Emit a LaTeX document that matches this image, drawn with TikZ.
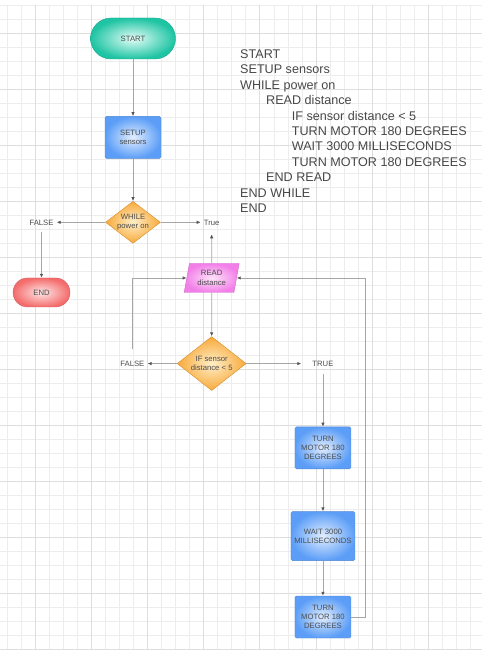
\documentclass[tikz,border=0pt]{standalone}
\usepackage{fontspec}
\setmainfont{Liberation Sans}
\usetikzlibrary{arrows.meta, positioning, shapes.geometric}

\definecolor{txtgray}{HTML}{4D4D4D}
\definecolor{linegray}{HTML}{A6A6A6}
\definecolor{tipgray}{HTML}{555555}
\definecolor{tealout}{HTML}{1EC4A3}
\definecolor{tealin}{HTML}{E4FDF7}
\definecolor{blueout}{HTML}{5C9EF7}
\definecolor{bluein}{HTML}{E2EEFF}
\definecolor{orangeout}{HTML}{F8A93A}
\definecolor{orangein}{HTML}{FFEFC8}
\definecolor{redout}{HTML}{F46C6C}
\definecolor{redin}{HTML}{FFE6E6}
\definecolor{pinkout}{HTML}{F27EE8}
\definecolor{pinkin}{HTML}{FFE4FA}

\begin{document}
\begin{tikzpicture}[x=1pt, y=-1pt, node distance=40pt, >={Latex[length=4pt,width=3.5pt,color=tipgray]},
    font=\fontsize{7.7}{9.3}\selectfont, text=txtgray]
  \tikzstyle{termnode}=[draw=tealout!85!black, line width=0.4pt, rounded corners=20.5pt, minimum width=85pt, minimum height=41pt, inner color=tealin, outer color=tealout]
  \tikzstyle{endnode}=[draw=redout!85!black, line width=0.4pt, rounded corners=14.5pt, minimum width=57pt, minimum height=29pt, inner color=redin, outer color=redout]
  \tikzstyle{procnode}=[draw=blueout!85!black, line width=0.4pt, rounded corners=1.5pt, align=center, minimum width=56pt, minimum height=42pt, inner color=bluein, outer color=blueout]
  \tikzstyle{decnode}=[diamond, draw=orangeout!85!black, line width=0.4pt, align=center, aspect=1.3, inner sep=0pt, inner color=orangein, outer color=orangeout]
  \tikzstyle{ionode}=[trapezium, trapezium left angle=77, trapezium right angle=103, trapezium stretches=true, draw=pinkout!85!black, line width=0.4pt, align=center, inner sep=0pt, minimum width=55pt, minimum height=29pt, inner color=pinkin, outer color=pinkout]
  \tikzstyle{lbl}=[inner sep=3pt, text height=5.5pt, text depth=0pt]
  \tikzstyle{link}=[draw=linegray, line width=0.8pt]
  \tikzstyle{gridminor}=[draw=black!7, line width=0.6pt]
  \tikzstyle{gridmajor}=[draw=black!13, line width=0.6pt]

  \useasboundingbox (0,0) rectangle (484,658);

  % background grid
  \foreach \k in {0,...,33} \draw[gridminor] ({7.24+14.03*\k},5) -- ({7.24+14.03*\k},649);
  \foreach \k in {0,...,46} \draw[gridminor] (0,{5+14*\k}) -- (482,{5+14*\k});
  \foreach \k in {0,...,7} \draw[gridmajor] ({35.3+56.12*\k},5) -- ({35.3+56.12*\k},649);
  \foreach \k in {0,...,11} \draw[gridmajor] (0,{33+56*\k}) -- (482,{33+56*\k});

  % main column
  \node[termnode] (start) at (133,38.5) {START};
  \node[procnode, below=57pt of start] (setup) {SETUP\\sensors};
  \node[decnode, minimum width=55pt, minimum height=42pt, below=42.5pt of setup] (while) {WHILE\\power on};
  \node[lbl, left=48.6pt of while] (wf) {FALSE};
  \node[lbl, right=40pt of while] (wt) {True};
  \node[endnode, below=49.5pt of wf] (stop) {END};

  % read loop
  \node[ionode, below=35pt of wt] (read) {READ\\distance};
  \node[decnode, minimum width=69pt, minimum height=54pt, below=43.7pt of read] (ifd) {IF sensor\\distance < 5};
  \node[lbl, left=29.4pt of ifd] (iff) {FALSE};
  \node[lbl, right=62.9pt of ifd] (ift) {TRUE};
  \node[procnode, below=57.2pt of ift] (turn1) {TURN\\MOTOR 180\\DEGREES};
  \node[procnode, minimum width=63pt, minimum height=49pt, below=42.3pt of turn1] (wait) {WAIT 3000\\MILLISECONDS};
  \node[procnode, below=35pt of wait] (turn2) {TURN\\MOTOR 180\\DEGREES};

  % pseudocode
  \node[anchor=north west, inner sep=0pt, align=left, text=black!72, font=\fontsize{12.6}{15.4}\selectfont] (code) at (240,49.5) {%
    START\\
    SETUP sensors\\
    WHILE power on\\
    \hspace*{26pt}READ distance\\
    \hspace*{51.7pt}IF sensor distance < 5\\
    \hspace*{51.7pt}TURN MOTOR 180 DEGREES\\
    \hspace*{51.7pt}WAIT 3000 MILLISECONDS\\
    \hspace*{51.7pt}TURN MOTOR 180 DEGREES\\
    \hspace*{26pt}END READ\\
    END WHILE\\
    END};

  \draw[link, ->] (start) -- (setup);
  \draw[link, ->] (setup) -- (while);
  \draw[link, ->] (while) -- (wf);
  \draw[link, ->] (while) -- (wt);
  \draw[link, ->, shorten <=4pt] (wf) -- (stop);
  \draw[link, ->, shorten >=6pt] (read) -- (wt);
  \draw[link, ->] (read) -- (ifd);
  \draw[link, ->] (ifd) -- (iff);
  \draw[link, ->, shorten >=8pt] (ifd) -- (ift);
  \draw[link, ->, shorten <=4.5pt] (ift) -- (turn1);
  \draw[link, ->] (turn1) -- (wait);
  \draw[link, ->] (wait) -- (turn2);
  \draw[link, ->, shorten <=8.5pt] (iff.north) |- (read.west);
  \draw[link, ->] (turn2.east) -- ++(14.3,0) |- (read.east);
\end{tikzpicture}
\end{document}
